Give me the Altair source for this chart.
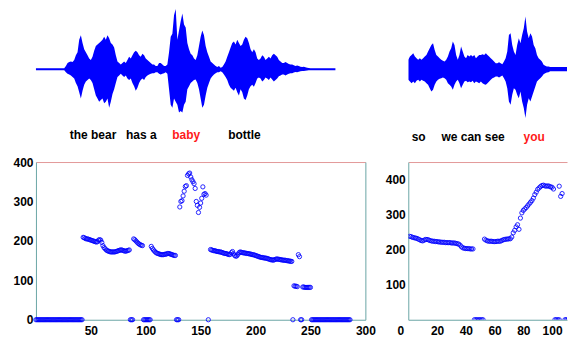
import altair as alt
import pandas as pd

FONT = "Liberation Sans"
BLUE = "#0000ff"
FRAME = "#6aa6a6"
PINK = "#e39a9a"

# ---------------- waveform envelopes (amplitude x100) ----------------
# left utterance: "the bear has a baby bottle"  (one value per analysis step)
left_start = 18
left_top = [5, 10, 11.5, 12.5, 11.5, 15, 22.5, 27.5, 47.5, 55,
            42.5, 32.5, 27.5, 22.5, 17.5, 15, 20, 30, 37.5, 40,
            42.5, 45, 47.5, 52.5, 47.5, 55, 50, 42.5, 40, 35,
            22.5, 12.5, 10, 7.5, 10, 12.5, 10, 15, 20, 17.5,
            22.5, 27.5, 30, 27.5, 22.5, 20, 25, 22.5, 17.5, 15,
            12.5, 10, 7.5, 7.5, 5, 5, 10, 10, 7.5, 5,
            5, 7.5, 27.5, 52.5, 57.5, 87.5, 97.5, 47.5, 62.5, 77.5,
            90, 72.5, 67.5, 42.5, 32.5, 25, 22.5, 17.5, 15, 22.5,
            37.5, 52.5, 62.5, 55, 37.5, 27.5, 20, 12.5, 10, 7.5,
            5, 3.5, 5, 2.5, 3.5, 7.5, 12.5, 20, 27.5, 35,
            42.5, 45, 40, 47.5, 42.5, 37.5, 40, 47.5, 52.5, 50,
            42.5, 32.5, 27.5, 32.5, 27.5, 17.5, 15, 17.5, 22.5, 20,
            15, 17.5, 20, 17.5, 22.5, 25, 22.5, 20, 15, 12.5,
            10, 10, 11.5, 10, 8.5, 7.5, 7.5, 6.5, 5, 6,
            5, 4, 3.5, 4, 3, 2.5, 2]
left_bot = [-5, -7.5, -8.5, -10, -12.5, -15, -22.5, -27.5, -37.5, -47.5,
            -35, -25, -20, -17.5, -15, -17.5, -22.5, -32.5, -42.5, -47.5,
            -52.5, -50, -47.5, -55, -52.5, -47.5, -62.5, -52.5, -40, -32.5,
            -22.5, -12.5, -10, -7.5, -10, -12.5, -10, -15, -17.5, -15,
            -22.5, -27.5, -35, -30, -22.5, -17.5, -15, -17.5, -12.5, -10,
            -8.5, -7.5, -6.5, -6.5, -5, -5, -7.5, -8.5, -7.5, -6.5,
            -5, -7.5, -32.5, -57.5, -62.5, -47.5, -52.5, -57.5, -70, -67.5,
            -70, -57.5, -52.5, -32.5, -27.5, -22.5, -20, -17.5, -16.5, -22.5,
            -32.5, -47.5, -62.5, -57.5, -42.5, -30, -22.5, -15, -11.5, -8.5,
            -6.5, -5, -5, -3.5, -5, -8.5, -12.5, -17.5, -25, -30,
            -32.5, -35, -30, -37.5, -42.5, -32.5, -37.5, -47.5, -50, -42.5,
            -32.5, -27.5, -25, -28.5, -22.5, -15, -13.5, -15, -20, -17.5,
            -13.5, -15, -17.5, -13.5, -16.5, -20, -17.5, -15, -11.5, -10,
            -8.5, -8.5, -10, -8.5, -7.5, -6.5, -6.5, -5.5, -4.5, -5,
            -4, -3.5, -3, -3, -2.5, -2, -1.5]
left_silence_before = [0, 17]
left_silence_after = [165, 180]
left_silence_amp = 1.5

# right utterance: "so we can see you"
right_start = 0
right_top = [14, 19, 21.5, 24, 19, 16.5, 14, 16.5, 14, 16.5,
             19, 21.5, 26.5, 31.5, 36.5, 39, 29, 21.5, 19, 16.5,
             14, 12.5, 11.5, 14, 19, 26.5, 31.5, 41.5, 36.5, 21.5,
             14, 21.5, 34, 26.5, 19, 16.5, 21.5, 19, 21.5, 19,
             21.5, 16.5, 19, 21.5, 21.5, 22.5, 21.5, 24, 21.5, 19,
             16.5, 14, 11.5, 9, 9, 10.5, 9, 7.5, 11.5, 16.5,
             26.5, 51.5, 54, 36.5, 26.5, 21.5, 36.5, 46.5, 39, 51.5,
             61.5, 79, 56.5, 46.5, 54, 49, 36.5, 31.5, 21.5, 16.5,
             14, 11.5, 6.5, 5, 4, 4]
right_bot = [-16, -18.5, -21, -18.5, -21, -17.5, -16, -18.5, -16, -17.5,
             -18.5, -21, -23.5, -28.5, -33.5, -31, -23.5, -18.5, -16, -14.5,
             -13.5, -12.5, -13.5, -16, -21, -23.5, -26, -31, -23.5, -18.5,
             -16, -21, -28.5, -23.5, -18.5, -17.5, -19.5, -18.5, -19.5, -17.5,
             -21, -18.5, -19.5, -21, -18.5, -21, -22.5, -23.5, -21, -18.5,
             -16, -13.5, -12.5, -11, -11, -12.5, -11, -9.5, -13.5, -18.5,
             -28.5, -48.5, -53.5, -38.5, -28.5, -31, -38.5, -43.5, -33.5, -48.5,
             -58.5, -73.5, -53.5, -43.5, -48.5, -41, -33.5, -26, -18.5, -16,
             -13.5, -11, -7.5, -6, -5, -4.5]
right_silence_before = []
right_silence_after = [86, 101]
right_silence_amp = 3.25

# words under the waveforms (position in analysis steps)
left_word_pos = [34, 63, 90, 125]
left_words = ["the bear", "has a", "baby", "bottle"]
left_red = 90
right_word_pos = [6, 39, 76]
right_words = ["so", "we can see", "you"]
right_red = 76

# ---------------- pitch tracks (Hz per frame) ----------------
left_voiced = [
    (43, [209, 208, 206, 205, 205, 204, 203, 202, 201, 200, 199, 198, 197, 198, 202,
          203, 202, 196, 188, 183, 180, 177, 175, 174, 173, 172, 172, 172, 172, 172,
          173, 174, 175, 176, 177, 177, 176, 175, 174, 174, 175, 176, 177]),
    (89, [205, 203, 200, 197, 194, 192, 190, 189, 188]),
    (105, [186, 181, 177, 174, 171, 169, 168, 167, 166, 165, 165, 165, 166, 166, 167,
           168, 168, 167, 166, 165, 164, 163, 163]),
    (131, [286, 300, 302, 314, 326, 338, 340, 366, 370, 372, 362, 355, 350, 345, 333,
           300, 290, 272, 285, 296, 308, 337, 318, 320, 316]),
    (159, [178, 177, 176, 175, 175, 174, 173, 173, 172, 172, 171, 170, 169, 168, 168,
           167, 166, 165, 166, 170, 173, 167, 163, 161, 162, 166, 170, 172, 171, 170,
           170, 169, 169, 168, 168, 167, 167, 166, 165, 165, 164, 163, 162, 161, 160,
           159, 158, 158, 157, 157, 156, 156, 155, 154, 153, 152, 152, 151, 152, 153,
           154, 154, 153, 153, 152, 152, 151, 151, 151, 150, 150, 149, 149, 148, 148]),
    (235, [86, 85, 85, 84]),
    (239, [165, 160]),
    (243, [83, 83, 82, 82, 82, 82, 82, 82]),
]
left_unvoiced = [(0, 42), (86, 88), (98, 104), (128, 130), (157, 157), (234, 234),
                 (241, 242), (251, 286)]

right_voiced = [
    (1, [238, 237, 235, 234, 233, 232, 230, 228, 226, 225, 227, 229, 229, 228, 226,
         225, 224, 224, 223, 223, 222, 222, 221, 221, 221, 220, 220, 220, 220, 219,
         219, 219, 218, 217, 216, 213, 208, 205, 204, 203, 203, 203, 202, 202, 202]),
    (53, [230, 227, 225, 224, 224, 224, 223, 223, 223, 224, 224, 224, 226, 228, 229,
          230, 230, 231, 231, 236, 248, 255, 265, 271, 258, 290, 305, 312, 316, 320,
          325, 330, 335, 340, 347, 357, 364, 372, 376, 380, 383, 384, 382, 381, 382,
          381, 379, 378, 373]),
    (105, [381, 352, 360]),
    (115, [319]),
]
right_unvoiced = [(46, 52), (102, 105), (109, 115)]


def wave_frame(start, top, bot, before, after, amp):
    rows = [{"i": i, "top": amp, "bot": -amp} for i in before]
    rows += [{"i": start + k, "top": a, "bot": b} for k, (a, b) in enumerate(zip(top, bot))]
    rows += [{"i": i, "top": amp, "bot": -amp} for i in after]
    return pd.DataFrame(rows)


def pitch_frame(voiced, unvoiced):
    rows = []
    for start, vals in voiced:
        rows += [{"t": start + k, "f0": v} for k, v in enumerate(vals)]
    for a, b in unvoiced:
        rows += [{"t": t, "f0": 0} for t in range(a, b + 1)]
    return pd.DataFrame(rows)


def word_axis(pos, words, red, pad):
    expr = " : ".join(f"datum.value == {p} ? '{w}'" for p, w in zip(pos, words)) + " : ''"
    return alt.Axis(values=pos, labelExpr=expr, ticks=False, tickSize=0, domain=False,
                    grid=False, labelPadding=pad, labelOverlap=False, labelFlush=False,
                    labelFontSize=12, title=None,
                    labelColor={"condition": {"test": f"datum.value == {red}", "value": "#ff1a1a"},
                                "value": "#000000"})


WAVE_H = 112
PITCH_H = 158
LEFT_W = 330
RIGHT_W = 159

wl = wave_frame(left_start, left_top, left_bot, left_silence_before, left_silence_after,
                left_silence_amp)
wr = wave_frame(right_start, right_top, right_bot, right_silence_before, right_silence_after,
                right_silence_amp)

wave_left = alt.Chart(wl).mark_area(color=BLUE, interpolate="linear").encode(
    x=alt.X("i:Q", scale=alt.Scale(domain=[0, 198], nice=False, zero=False),
            axis=word_axis(left_word_pos, left_words, left_red, 8)),
    y=alt.Y("top:Q", scale=alt.Scale(domain=[-84, 97], nice=False), axis=None),
    y2="bot:Q",
).properties(width=LEFT_W, height=WAVE_H, view=alt.ViewBackground(stroke="transparent"))

wave_right = alt.Chart(wr).mark_area(color=BLUE, interpolate="linear", clip=True).encode(
    x=alt.X("i:Q", scale=alt.Scale(domain=[0, 96.2], nice=False, zero=False),
            axis=word_axis(right_word_pos, right_words, right_red, 10)),
    y=alt.Y("top:Q", scale=alt.Scale(domain=[-78, 90], nice=False), axis=None),
    y2="bot:Q",
).properties(width=RIGHT_W, height=WAVE_H, view=alt.ViewBackground(stroke="transparent"))

pl = pitch_frame(left_voiced, left_unvoiced)
pr = pitch_frame(right_voiced, right_unvoiced)

point_style = dict(shape="circle", filled=False, size=18, color=BLUE, strokeWidth=1, opacity=0.85)

# ---- left pitch panel: frame drawn by four axis domain lines (pink top, teal others)
xl_scale = alt.Scale(domain=[0, 300], nice=False)
yl_scale = alt.Scale(domain=[0, 400], nice=False)
pl_points = alt.Chart(pl).mark_point(**point_style).encode(
    x=alt.X("t:Q", scale=xl_scale,
            axis=alt.Axis(orient="bottom", values=[50, 100, 150, 200, 250, 300], grid=False,
                          ticks=False, tickSize=0, domainColor=FRAME, labelPadding=6,
                          labelFlush=False, title=None)),
    y=alt.Y("f0:Q", scale=yl_scale,
            axis=alt.Axis(orient="left", values=[0, 100, 200, 300, 400], grid=False,
                          ticks=False, tickSize=0, domainColor=FRAME, labelPadding=3,
                          labelFlush=False, title=None)),
)
pl_frame = alt.Chart(pl).mark_point(shape="circle", opacity=0).encode(
    x=alt.X("t:Q", scale=xl_scale,
            axis=alt.Axis(orient="top", labels=False, ticks=False, tickSize=0, grid=False,
                          domainColor=PINK, title=None)),
    y=alt.Y("f0:Q", scale=yl_scale,
            axis=alt.Axis(orient="right", labels=False, ticks=False, tickSize=0, grid=False,
                          domainColor=FRAME, title=None)),
)
pitch_left = alt.layer(pl_points, pl_frame).resolve_axis(x="independent", y="independent").properties(
    width=LEFT_W, height=PITCH_H, view=alt.ViewBackground(stroke="transparent"))

# ---- right pitch panel (cut at the right edge, as in the picture)
xr_scale = alt.Scale(domain=[0, 110.4], nice=False)
yr = alt.Y("f0:Q", scale=alt.Scale(domain=[0, 450], nice=False),
           axis=alt.Axis(values=[100, 200, 300, 400], grid=False, ticks=False, tickSize=0,
                         domainColor=FRAME, labelPadding=3, labelFlush=False, title=None))
pr_points = alt.Chart(pr).mark_point(clip=True, **point_style).encode(
    x=alt.X("t:Q", scale=xr_scale,
            axis=alt.Axis(orient="bottom", values=[0, 20, 40, 60, 80, 100], grid=False,
                          ticks=False, tickSize=0, domainColor=FRAME, labelPadding=6,
                          labelFlush=False, title=None,
                          labelOffset={"condition": {"test": "datum.value == 0", "value": -8},
                                       "value": 0})),
    y=yr,
)
pr_top = alt.Chart(pr).mark_point(shape="circle", opacity=0, clip=True).encode(
    x=alt.X("t:Q", scale=xr_scale,
            axis=alt.Axis(orient="top", labels=False, ticks=False, tickSize=0, grid=False,
                          domainColor=PINK, title=None)),
    y=yr,
)
pitch_right = alt.layer(pr_points, pr_top).resolve_axis(x="independent").properties(
    width=RIGHT_W, height=PITCH_H, view=alt.ViewBackground(stroke="transparent"))

chart = alt.concat(
    wave_left, wave_right, pitch_left, pitch_right,
    columns=2, spacing={"row": 41, "column": 43}, bounds="flush",
).properties(
    padding={"left": 4, "top": 0, "right": 0, "bottom": 0},
).configure_view(stroke=FRAME, strokeWidth=1).configure_axis(
    labelFont=FONT, labelFontWeight="bold", labelFontSize=12, labelColor="#000000",
)

chart.save("out.html", embed_options={"renderer": "svg", "actions": False})
